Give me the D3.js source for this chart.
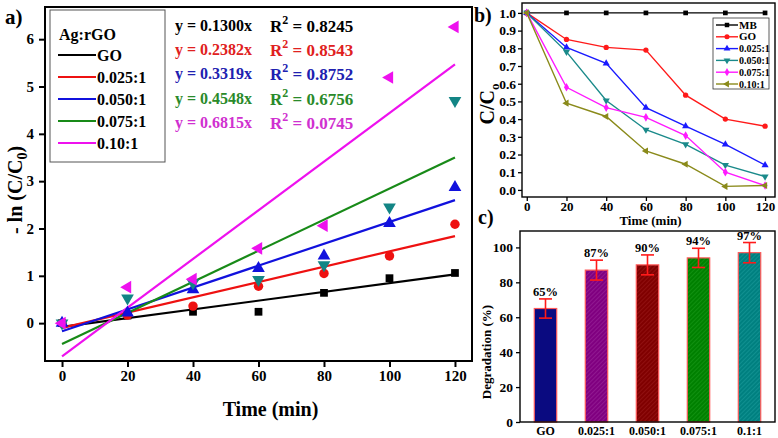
<!DOCTYPE html>
<html>
<head>
<meta charset="utf-8">
<script src="https://cdn.jsdelivr.net/npm/d3@7/dist/d3.min.js"></script>
<style>
html,body{margin:0;padding:0;background:#fff;}
svg text{font-family:'Liberation Serif','Times New Roman',serif;font-weight:bold;}
</style>
</head>
<body>
<svg id="chart" width="778" height="438"></svg>
<script>
// ---------- DATA ----------
// Panel a: kinetics -ln(C/C0)
const timeA = [0, 20, 40, 60, 80, 100, 120];
const seriesA = ["GO", "0.025:1", "0.050:1", "0.075:1", "0.10:1"];
const lnGO   = [0, 0.16, 0.24, 0.24, 0.64, 0.95, 1.06];
const ln025  = [0, 0.17, 0.36, 0.78, 1.05, 1.42, 2.09];
const ln050  = [0, 0.22, 0.71, 1.16, 1.42, 2.11, 2.87];
const ln075  = [0, 0.53, 0.85, 0.92, 1.23, 2.45, 4.70];
const ln010  = [0, 0.76, 0.93, 1.58, 2.06, 5.19, 6.26];
const fitStart = [-0.08, -0.10, -0.17, -0.44, -0.70]; // fit value at t=0
const fitEnd   = [1.03, 1.84, 2.60, 3.50, 5.47];      // fit value at t=120
const eqSlopes = ["0.1300", "0.2382", "0.3319", "0.4548", "0.6815"];
const eqR2     = ["0.8245", "0.8543", "0.8752", "0.6756", "0.0745"];
const yTicksA = [0, 1, 2, 3, 4, 5, 6];
const xTicksA = [0, 20, 40, 60, 80, 100, 120];

// Panel b: C/C0 vs time
const timeB = [0, 20, 40, 60, 80, 100, 120];
const seriesB = ["MB", "GO", "0.025:1", "0.050:1", "0.075:1", "0.10:1"];
const ccMB  = [1, 1, 1, 1, 1, 1, 1];
const ccGO  = [1, 0.85, 0.805, 0.79, 0.535, 0.40, 0.36];
const cc025 = [1, 0.805, 0.715, 0.465, 0.36, 0.257, 0.14];
const cc050 = [1, 0.78, 0.505, 0.34, 0.257, 0.14, 0.075];
const cc075 = [1, 0.58, 0.465, 0.41, 0.307, 0.10, 0.025];
const cc010 = [1, 0.49, 0.415, 0.22, 0.145, 0.02, 0.025];
const yTicksB = [0, 0.1, 0.2, 0.3, 0.4, 0.5, 0.6, 0.7, 0.8, 0.9, 1.0];
const xTicksB = [0, 20, 40, 60, 80, 100, 120];

// Panel c: degradation
const catsC = ["GO", "0.025:1", "0.050:1", "0.075:1", "0.1:1"];
const degr  = [65, 87, 90, 94, 97];
const errC  = [5.5, 5.7, 5.7, 5.5, 5.8];
const yTicksC = [0, 20, 40, 60, 80, 100];

// ---------- DRAW ----------
const svg = d3.select("#chart");
const defs = svg.append("defs");

function styleAxis(g, fs) {
  g.select(".domain").remove();
  g.selectAll("text").attr("font-size", fs).attr("fill", "#000");
  g.selectAll("line").attr("stroke", "#000");
}

// ===== Panel a =====
const A = {l: 45, r: 472, t: 7, b: 361};
const xa = d3.scaleLinear().domain([-5.2, 125.2]).range([A.l, A.r]);
const ya = d3.scaleLinear().domain([-0.8, 6.68]).range([A.b, A.t]);
const colA = ["#000000", "#ee1111", "#1111dd", "#188a18", "#ee11ee"];
const markColA = ["#000000", "#ee1111", "#1111dd", "#138585", "#ee11ee"];
const symA = [d3.symbolSquare, d3.symbolCircle, d3.symbolTriangle, d3.symbolTriangle, d3.symbolTriangle];
const rotA = [0, 0, 0, 180, -90];
const valsA = [lnGO, ln025, ln050, ln075, ln010];

const gA = svg.append("g");
const axLa = gA.append("g").attr("transform", `translate(${A.l},0)`)
  .call(d3.axisLeft(ya).tickValues(yTicksA).tickSize(6).tickPadding(5).tickFormat(d3.format("d")));
styleAxis(axLa, 15); axLa.selectAll("line").attr("stroke-width", 2);
const axBa = gA.append("g").attr("transform", `translate(0,${A.b})`)
  .call(d3.axisBottom(xa).tickValues(xTicksA).tickSize(6).tickPadding(3));
styleAxis(axBa, 15); axBa.selectAll("line").attr("stroke-width", 2);

defs.append("clipPath").attr("id", "clipA").append("rect")
  .attr("x", A.l).attr("y", A.t).attr("width", A.r - A.l).attr("height", A.b - A.t);
const plotA = gA.append("g").attr("clip-path", "url(#clipA)");

seriesA.forEach((s, i) => {
  plotA.append("line")
    .attr("x1", xa(0)).attr("y1", ya(fitStart[i]))
    .attr("x2", xa(120)).attr("y2", ya(fitEnd[i]))
    .attr("stroke", colA[i]).attr("stroke-width", 2.2);
});
seriesA.forEach((s, i) => {
  plotA.selectAll(null).data(valsA[i].map((v, j) => [timeA[j], v])).enter()
    .append("path")
    .attr("d", d3.symbol().type(symA[i]).size(i === 0 ? 60 : 70))
    .attr("transform", d => `translate(${xa(d[0])},${ya(d[1])}) rotate(${rotA[i]})`)
    .attr("fill", markColA[i]);
});
gA.append("rect").attr("x", A.l).attr("y", A.t).attr("width", A.r - A.l).attr("height", A.b - A.t)
  .attr("fill", "none").attr("stroke", "#000").attr("stroke-width", 2);

const legA = gA.append("g");
legA.append("rect").attr("x", 50).attr("y", 10).attr("width", 115).attr("height", 152)
  .attr("fill", "#fff").attr("stroke", "#555").attr("stroke-width", 1);
legA.append("text").attr("x", 59).attr("y", 40).attr("font-size", 16).text("Ag:rGO");
seriesA.forEach((s, i) => {
  const yy = 55 + i * 22;
  legA.append("line").attr("x1", 58).attr("x2", 96).attr("y1", yy).attr("y2", yy)
    .attr("stroke", colA[i]).attr("stroke-width", 2.2);
  legA.append("text").attr("x", 97).attr("y", yy + 6).attr("font-size", 16).text(s);
});

const eqCol = ["#000000", "#e02020", "#2020b0", "#2a8a2a", "#d030d0"];
seriesA.forEach((s, i) => {
  const by = 31 + i * 24.2;
  gA.append("text").attr("x", 175).attr("y", by).attr("font-size", 16).attr("fill", eqCol[i])
    .text(`y = ${eqSlopes[i]}x`);
  const t = gA.append("text").attr("x", 270).attr("y", by + 1).attr("font-size", 17).attr("fill", eqCol[i]);
  t.append("tspan").text("R");
  t.append("tspan").attr("font-size", 12).attr("dy", -8).text("2");
  t.append("tspan").attr("dy", 8).text(" = " + eqR2[i]);
});

gA.append("text").attr("x", 5).attr("y", 24).attr("font-size", 21).text("a)");
gA.append("text").attr("x", (A.l + A.r) / 2 + 12).attr("y", 416).attr("text-anchor", "middle")
  .attr("font-size", 20).text("Time (min)");
const yla = gA.append("text").attr("transform", "translate(22,190) rotate(-90)")
  .attr("text-anchor", "middle").attr("font-size", 20);
yla.append("tspan").text("- ln (C/C");
yla.append("tspan").attr("font-size", 14).attr("dy", 5).text("0");
yla.append("tspan").attr("dy", -5).text(")");

// ===== Panel b =====
const B = {l: 522, r: 775, t: 3, b: 197};
const xb = d3.scaleLinear().domain([-2.4, 125]).range([B.l, B.r]);
const yb = d3.scaleLinear().domain([-0.04, 1.056]).range([B.b, B.t]);
const colB = ["#000000", "#ff1a1a", "#1a1aff", "#1a8a8a", "#ff1aff", "#8a8a1a"];
const symB = [d3.symbolSquare, d3.symbolCircle, d3.symbolTriangle, d3.symbolTriangle, d3.symbolDiamond, d3.symbolTriangle];
const rotB = [0, 0, 0, 180, 0, -90];
const valsB = [ccMB, ccGO, cc025, cc050, cc075, cc010];
const gB = svg.append("g");
const axLb = gB.append("g").attr("transform", `translate(${B.l},0)`)
  .call(d3.axisLeft(yb).tickValues(yTicksB).tickSize(4).tickPadding(2).tickFormat(d3.format(".1f")));
styleAxis(axLb, 13.5); axLb.selectAll("line").attr("stroke-width", 1.3);
const axBb = gB.append("g").attr("transform", `translate(0,${B.b})`)
  .call(d3.axisBottom(xb).tickValues(xTicksB).tickSize(4).tickPadding(1));
styleAxis(axBb, 13); axBb.selectAll("line").attr("stroke-width", 1.3);
const lineB = d3.line().x((d, j) => xb(timeB[j])).y(d => yb(d));
seriesB.forEach((s, i) => {
  gB.append("path").attr("d", lineB(valsB[i])).attr("fill", "none")
    .attr("stroke", colB[i]).attr("stroke-width", 1.4);
  gB.selectAll(null).data(valsB[i].map((v, j) => [timeB[j], v])).enter()
    .append("path").attr("d", d3.symbol().type(symB[i]).size(22))
    .attr("transform", d => `translate(${xb(d[0])},${yb(d[1])}) rotate(${rotB[i]})`)
    .attr("fill", colB[i]);
});
gB.append("rect").attr("x", B.l).attr("y", B.t).attr("width", B.r - B.l).attr("height", B.b - B.t)
  .attr("fill", "none").attr("stroke", "#000").attr("stroke-width", 1.4);
const legB = gB.append("g");
legB.append("rect").attr("x", 713).attr("y", 18).attr("width", 56).attr("height", 71)
  .attr("fill", "#fff").attr("stroke", "#333").attr("stroke-width", 0.8);
seriesB.forEach((s, i) => {
  const yy = 25 + i * 11.8;
  legB.append("line").attr("x1", 716).attr("x2", 738).attr("y1", yy).attr("y2", yy)
    .attr("stroke", colB[i]).attr("stroke-width", 1.4);
  legB.append("path").attr("d", d3.symbol().type(symB[i]).size(20))
    .attr("transform", `translate(727,${yy}) rotate(${rotB[i]})`).attr("fill", colB[i]);
  legB.append("text").attr("x", 739).attr("y", yy + 3.5).attr("font-size", i < 2 ? 11 : 10).text(s);
});
gB.append("text").attr("x", 474).attr("y", 22).attr("font-size", 20).text("b)");
gB.append("text").attr("x", (B.l + B.r) / 2 + 2).attr("y", 225).attr("text-anchor", "middle")
  .attr("font-size", 13).text("Time (min)");
const ylb = gB.append("text").attr("transform", "translate(494,104) rotate(-90)")
  .attr("text-anchor", "middle").attr("font-size", 20);
ylb.append("tspan").text("C/C");
ylb.append("tspan").attr("font-size", 13).attr("dy", 5).text("o");

// ===== Panel c =====
const C = {l: 520, r: 775, t: 231, b: 422};
const xc = d3.scaleBand().domain(catsC).range([C.l, C.r]).paddingInner(0.56).paddingOuter(0.28);
const yc = d3.scaleLinear().domain([0, 109.4]).range([C.b, C.t]);
const colC = ["#0a0a80", "#800080", "#800000", "#008000", "#008080"];
const hatchC = [null, "#a030a0", "#a02020", "#20a020", "#20a0a0"];
colC.forEach((c, i) => {
  if (!hatchC[i]) return;
  const p = defs.append("pattern").attr("id", "hatch" + i).attr("patternUnits", "userSpaceOnUse")
    .attr("width", 3).attr("height", 3).attr("patternTransform", "rotate(45)");
  p.append("rect").attr("width", 3).attr("height", 3).attr("fill", c);
  p.append("line").attr("x1", 0).attr("y1", 0).attr("x2", 0).attr("y2", 3)
    .attr("stroke", hatchC[i]).attr("stroke-width", 1);
});
const gC = svg.append("g");
const axLc = gC.append("g").attr("transform", `translate(${C.l},0)`)
  .call(d3.axisLeft(yc).tickValues(yTicksC).tickSize(4).tickPadding(3));
styleAxis(axLc, 13.5); axLc.selectAll("line").attr("stroke-width", 1.3);
const axBc = gC.append("g").attr("transform", `translate(0,${C.b})`)
  .call(d3.axisBottom(xc).tickSize(0).tickPadding(4));
styleAxis(axBc, 12);
gC.selectAll("rect.bar").data(catsC).enter().append("rect").attr("class", "bar")
  .attr("x", d => xc(d)).attr("width", xc.bandwidth())
  .attr("y", (d, i) => yc(degr[i])).attr("height", (d, i) => yc(0) - yc(degr[i]))
  .attr("fill", (d, i) => hatchC[i] ? `url(#hatch${i})` : colC[i])
  .attr("stroke", "#ff5a5a").attr("stroke-width", 1.2);
catsC.forEach((d, i) => {
  const cx = xc(d) + xc.bandwidth() / 2;
  const y1 = yc(degr[i] + errC[i]), y2 = yc(degr[i] - errC[i]);
  const e = gC.append("g").attr("stroke", "#ff1a1a").attr("stroke-width", 1.6);
  e.append("line").attr("x1", cx).attr("x2", cx).attr("y1", y1).attr("y2", y2);
  e.append("line").attr("x1", cx - 6.5).attr("x2", cx + 6.5).attr("y1", y1).attr("y2", y1);
  e.append("line").attr("x1", cx - 6.5).attr("x2", cx + 6.5).attr("y1", y2).attr("y2", y2);
  gC.append("text").attr("x", cx).attr("y", yc(degr[i]) - 13).attr("text-anchor", "middle")
    .attr("font-size", 12.5).text(degr[i] + "%");
});
gC.append("rect").attr("x", C.l).attr("y", C.t).attr("width", C.r - C.l).attr("height", C.b - C.t)
  .attr("fill", "none").attr("stroke", "#000").attr("stroke-width", 1.4);
gC.append("text").attr("x", 478).attr("y", 224).attr("font-size", 20).text("c)");
gC.append("text").attr("transform", "translate(491,352) rotate(-90)")
  .attr("text-anchor", "middle").attr("font-size", 13).text("Degradation (%)");
</script>
</body>
</html>
